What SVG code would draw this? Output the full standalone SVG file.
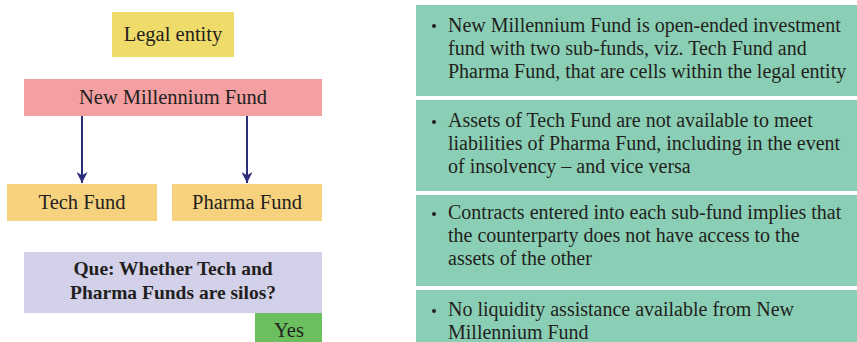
<svg xmlns="http://www.w3.org/2000/svg" width="857" height="342" viewBox="0 0 857 342">
<style>
text{font-family:"Liberation Serif","Times New Roman",serif;fill:#231F20;}
.c{text-anchor:middle;font-size:20.5px;}
.b{font-weight:bold;font-size:19.5px;}
.p{font-size:20px;}
</style>
<defs>
<marker id="ah" viewBox="0 0 10 10" refX="10" refY="5" markerWidth="5.5" markerHeight="5.5" orient="auto" markerUnits="strokeWidth">
<path d="M0,0 L10,5 L0,10 L3,5 Z" fill="#2B2F7A"/>
</marker>
</defs>
<rect width="857" height="342" fill="#fff"/>
<g id="legal-entity"><rect x="112" y="12" width="122" height="45" fill="#EEDB6A"/><text class="c" x="173" y="41">Legal entity</text></g>
<g id="new-millennium-fund"><rect x="24" y="79" width="298" height="37" fill="#F4A0A2"/><text class="c" x="173" y="104">New Millennium Fund</text></g>
<g id="tech-fund"><rect x="7" y="184" width="150" height="37" fill="#F7D27E"/><text class="c" x="82" y="209">Tech Fund</text></g>
<g id="pharma-fund"><rect x="172" y="184" width="150" height="37" fill="#F7D27E"/><text class="c" x="247" y="209">Pharma Fund</text></g>
<g id="question"><rect x="24" y="252" width="298" height="61" fill="#D2D1E9"/><text class="c b" x="173" y="275">Que: Whether Tech and</text><text class="c b" x="173" y="299">Pharma Funds are silos?</text></g>
<g id="yes"><rect x="255" y="313" width="67" height="29" fill="#6BBF5F"/><text class="c" x="289" y="337">Yes</text></g>
<g id="connectors" stroke="#2B2F7A" stroke-width="2" fill="none">
<line x1="82" y1="116" x2="82" y2="183" marker-end="url(#ah)"/>
<line x1="247" y1="116" x2="247" y2="183" marker-end="url(#ah)"/>
</g>
<g id="point-1"><rect x="416" y="5" width="441" height="91" fill="#8ACFB5"/>
<circle cx="434" cy="26" r="2" fill="#231F20"/>
<text class="p" x="448" y="32">New Millennium Fund is open-ended investment</text>
<text class="p" x="448" y="55">fund with two sub-funds, viz. Tech Fund and</text>
<text class="p" x="448" y="78">Pharma Fund, that are cells within the legal entity</text></g>
<g id="point-2"><rect x="416" y="100" width="441" height="91" fill="#8ACFB5"/>
<circle cx="434" cy="122" r="2" fill="#231F20"/>
<text class="p" x="448" y="127">Assets of Tech Fund are not available to meet</text>
<text class="p" x="448" y="150">liabilities of Pharma Fund, including in the event</text>
<text class="p" x="448" y="173">of insolvency – and vice versa</text></g>
<g id="point-3"><rect x="416" y="195" width="441" height="91" fill="#8ACFB5"/>
<circle cx="434" cy="214" r="2" fill="#231F20"/>
<text class="p" x="448" y="219">Contracts entered into each sub-fund implies that</text>
<text class="p" x="448" y="242">the counterparty does not have access to the</text>
<text class="p" x="448" y="265">assets of the other</text></g>
<g id="point-4"><rect x="416" y="290" width="441" height="52" fill="#8ACFB5"/>
<circle cx="434" cy="311" r="2" fill="#231F20"/>
<text class="p" x="448" y="316">No liquidity assistance available from New</text>
<text class="p" x="448" y="339">Millennium Fund</text></g>
</svg>
